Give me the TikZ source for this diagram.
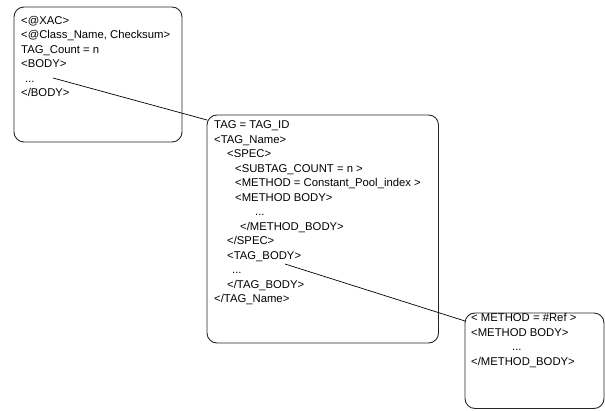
\documentclass[tikz,border=0pt]{standalone}
\usepackage{fontspec}
\setmainfont{Liberation Sans}
\begin{document}
\begin{tikzpicture}[x=1pt,y=-1pt,
  box/.style={draw=black!85,line width=0.9pt,rounded corners=10pt,inner sep=0pt},
  txt/.style={anchor=base west,inner sep=0pt,font=\fontsize{11.3}{14.5}\selectfont},
  link/.style={draw=black,line width=0.7pt}]
\useasboundingbox (0,0) rectangle (605,411);
\node[box,minimum width=168pt,minimum height=135pt] (b1) at (98,74.5) {};
\node[box,minimum width=231.5pt,minimum height=228pt] (b2) at (322.75,229) {};
\node[box,minimum width=139pt,minimum height=95.5pt] (b3) at (534.5,360.75) {};
\node[txt] (t1) at (21,24.5) {\begin{tabular}[t]{@{}l@{}}<@XAC>\\<@Class\_Name, Checksum>\\TAG\_Count = n\\<BODY>\\\hspace*{4pt}...\\</BODY>\end{tabular}};
\node[txt] (t2) at (214,129) {\begin{tabular}[t]{@{}l@{}}TAG = TAG\_ID\\<TAG\_Name>\\\hspace*{13pt}<SPEC>\\\hspace*{21pt}<SUBTAG\_COUNT = n >\\\hspace*{21pt}<METHOD = Constant\_Pool\_index >\\\hspace*{21pt}<METHOD BODY>\\\hspace*{41pt}...\\\hspace*{26pt}</METHOD\_BODY>\\\hspace*{13pt}</SPEC>\\\hspace*{13pt}<TAG\_BODY>\\\hspace*{18pt}...\\\hspace*{13pt}</TAG\_BODY>\\</TAG\_Name>\end{tabular}};
\node[txt] (t3) at (471,322) {\begin{tabular}[t]{@{}l@{}}< METHOD = \#Ref >\\<METHOD BODY>\\\hspace*{41pt}...\\</METHOD\_BODY>\end{tabular}};
\coordinate (s1) at (53,78);
\coordinate (e1) at (207,120);
\coordinate (s2) at (285,264);
\coordinate (e2) at (465,321);
\draw[link] (s1) -- (e1);
\draw[link] (s2) -- (e2);
\end{tikzpicture}
\end{document}
